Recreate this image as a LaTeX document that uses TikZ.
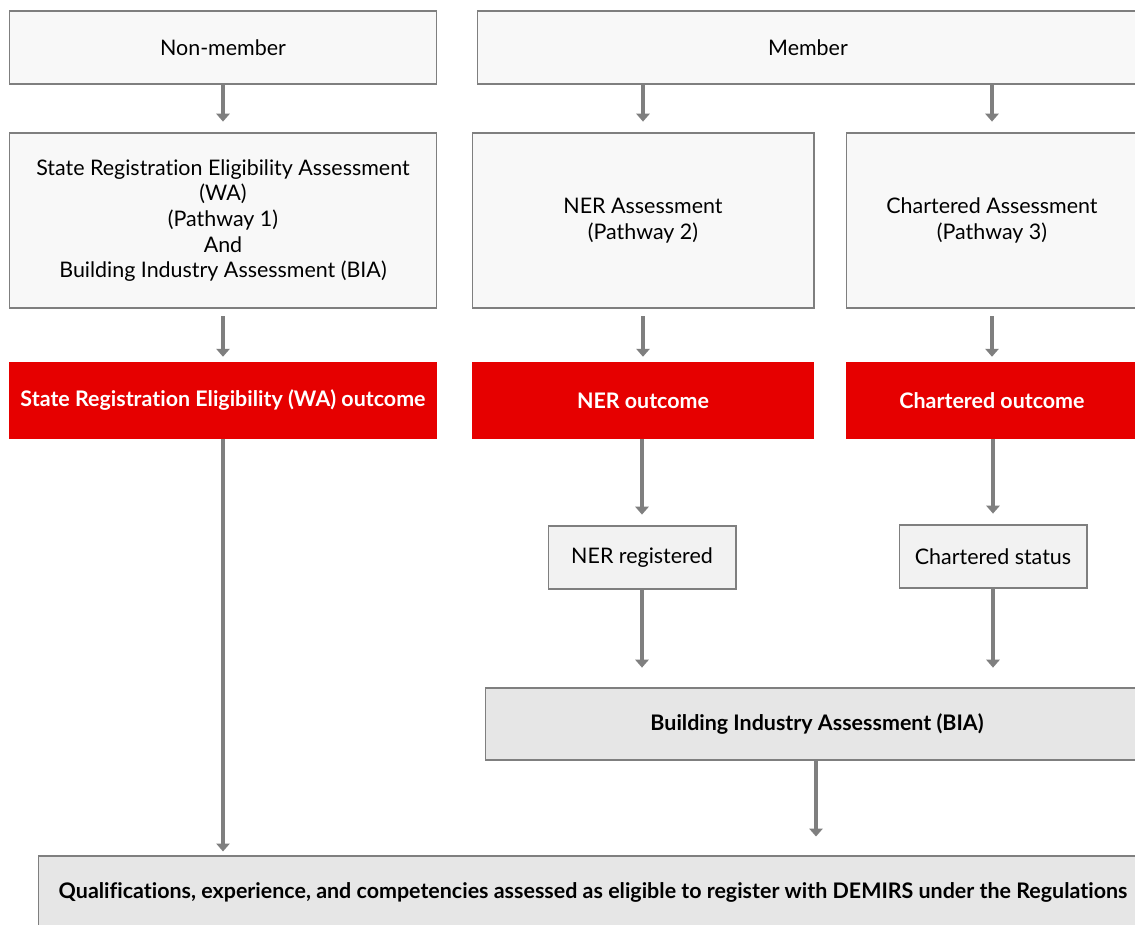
\documentclass[tikz,border=0pt]{standalone}
\usepackage{fontspec}
\setmainfont{Lato}[Ligatures={NoCommon}]
\usetikzlibrary{arrows.meta}
\definecolor{boxline}{HTML}{7F7F7F}
\definecolor{lightfill}{HTML}{F8F8F8}
\definecolor{midfill}{HTML}{F2F2F2}
\definecolor{greyfill}{HTML}{E6E6E6}
\definecolor{redfill}{HTML}{E60000}
\definecolor{arrowgrey}{HTML}{7F7F7F}
\tikzset{
  px/.style={x=0.02cm,y=-0.02cm},
  basebox/.style={draw=boxline, line width=0.6pt, align=center, inner sep=2pt,
    font=\fontsize{12.2pt}{14.6pt}\selectfont},
  lightbox/.style={basebox, fill=lightfill},
  midbox/.style={basebox, fill=midfill},
  greybox/.style={basebox, fill=greyfill, font=\fontsize{12.2pt}{14.6pt}\selectfont\bfseries},
  redbox/.style={draw=none, fill=redfill, text=white, align=center,
    font=\fontsize{12.2pt}{14.6pt}\selectfont\bfseries},
  arr/.style={draw=arrowgrey, line width=2.8pt,
    -{Triangle[length=4.5pt,width=7.5pt]}},
}
\begin{document}
\begin{tikzpicture}[px]
\useasboundingbox (0,0) rectangle (1135,924);
\clip (0,0) rectangle (1135,924);
\fill[white] (0,0) rectangle (1135,924);
% top row
\node[lightbox, minimum width=8.56cm, minimum height=1.46cm] (nonmem) at (223,47.5) {Non-member};
\node[lightbox, minimum width=13.24cm, minimum height=1.46cm] (mem) at (808,47.5) {Member};
% assessments
\node[lightbox, minimum width=8.56cm, minimum height=3.5cm] (sra) at (223,220.5)
  {State Registration Eligibility Assessment\\(WA)\\(Pathway 1)\\And\\Building Industry Assessment (BIA)};
\node[lightbox, minimum width=6.84cm, minimum height=3.5cm] (nera) at (643,220.5) {NER Assessment\\(Pathway 2)};
\node[lightbox, minimum width=5.84cm, minimum height=3.5cm] (cha) at (992,220.5) {Chartered Assessment\\(Pathway 3)};
% outcomes
\node[redbox, minimum width=8.56cm, minimum height=1.54cm] (waout) at (223,400.5) {State Registration Eligibility (WA) outcome};
\node[redbox, minimum width=6.84cm, minimum height=1.54cm] (nerout) at (643,400.5) {NER outcome};
\node[redbox, minimum width=5.84cm, minimum height=1.54cm] (chout) at (992,400.5) {Chartered outcome};
% status
\node[midbox, minimum width=3.76cm, minimum height=1.26cm] (nerreg) at (642,557.5) {NER registered};
\node[midbox, minimum width=3.76cm, minimum height=1.26cm] (chst) at (993,556.5) {Chartered status};
% BIA and final
\node[greybox, minimum width=13.28cm, minimum height=1.44cm] (bia) at (817,724) {Building Industry Assessment (BIA)};
\node[greybox, minimum width=22.2cm, minimum height=1.44cm] (final) at (593,892)
  {Qualifications, experience, and competencies assessed as eligible to register with DEMIRS under the Regulations};
% connectors
\draw[arr, shorten >=6.2pt] (nonmem.south) -- (sra.north);
\draw[arr, shorten >=6.2pt] (mem.south -| nera.north) -- (nera.north);
\draw[arr, shorten >=6.2pt] (mem.south -| cha.north) -- (cha.north);
\draw[arr, shorten <=4.5pt, shorten >=2.8pt] (sra.south) -- (waout.north);
\draw[arr, shorten <=4.5pt, shorten >=2.8pt] (nera.south) -- (nerout.north);
\draw[arr, shorten <=4.5pt, shorten >=2.8pt] (cha.south) -- (chout.north);
\draw[arr, shorten >=2.3pt] (waout.south) -- (waout.south |- final.north);
\draw[arr, shorten >=6.2pt] (nerout.south -| nerreg.north) -- (nerreg.north);
\draw[arr, shorten >=6.2pt] (chout.south -| chst.north) -- (chst.north);
\draw[arr, shorten >=11.3pt] (nerreg.south) -- (nerreg.south |- bia.north);
\draw[arr, shorten >=11.3pt] (chst.south) -- (chst.south |- bia.north);
\draw[arr, shorten >=10.8pt] (bia.south -| 816,0) -- (816,0 |- final.north);
\end{tikzpicture}
\end{document}
